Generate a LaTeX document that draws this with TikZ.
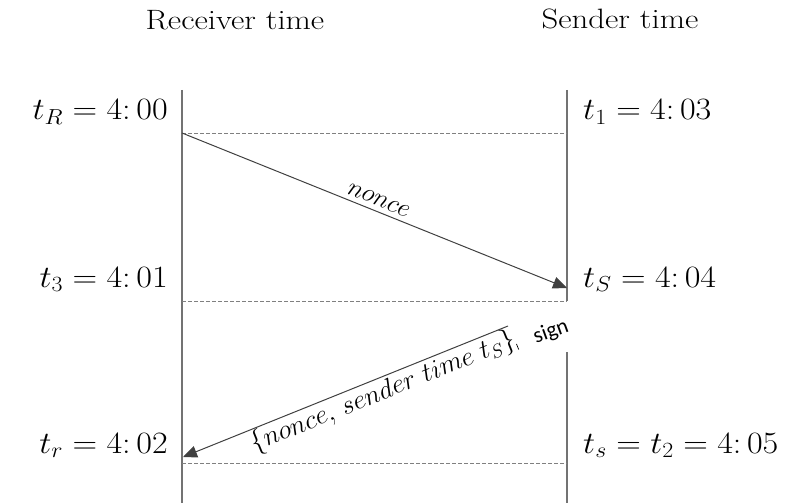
\RequirePackage{fix-cm}
\documentclass[tikz,border=0pt]{standalone}
\usepackage{fontspec}
\newfontfamily\signfont{Carlito}
\usetikzlibrary{arrows.meta}
\begin{document}
\begin{tikzpicture}[x=1pt,y=-1pt,
  lifeline/.style={draw=black!55, line width=1.6pt},
  tick/.style={draw=black!50, dash pattern=on 3.5pt off 2.5pt, line width=0.9pt},
  msg/.style={draw=black!75, line width=1pt, -{Triangle[length=14pt,width=12pt]}},
  head/.style={font=\fontsize{28}{31}\selectfont, inner sep=0pt, xscale=1.17},
  stamp/.style={font=\fontsize{31}{35}\selectfont, inner sep=0pt, xscale=1.1},
  mlabel/.style={sloped}]
\useasboundingbox (0,0) rectangle (807,503);

% column headings
\node[head, anchor=base] (hr) at (235,30) {Receiver time};
\node[head, anchor=base] (hs) at (620,29) {Sender time};

% lifelines
\coordinate (rtop) at (182,90);
\coordinate (rbot) at (182,503);
\coordinate (stop) at (567,90);
\coordinate (smid) at (567,301);
\coordinate (slow) at (567,352);
\coordinate (sbot) at (567,503);
\draw[lifeline] (rtop) -- (rbot);
\draw[lifeline] (stop) -- (smid);
\draw[lifeline] (slow) -- (sbot);

% time ticks
\coordinate (r1) at (182,133); \coordinate (s1) at (567,133);
\coordinate (r2) at (182,301); \coordinate (s2) at (567,301);
\coordinate (r3) at (182,463); \coordinate (s3) at (567,463);
\draw[tick] (r1) -- (s1);
\draw[tick] (r2) -- (s2);
\draw[tick] (r3) -- (s3);

% messages
\coordinate (sarr) at (567,288);
\coordinate (sdep) at (508,326);
\coordinate (rarr) at (183,457);
\draw[msg] (r1) -- node[mlabel, font=\fontsize{26}{30}\selectfont, midway, above, inner sep=5pt] {$nonce$} (sarr);
\draw[msg] (sdep) -- node[mlabel, font=\fontsize{27}{31}\selectfont, pos=0.40, below, inner sep=1pt]
  {$\{nonce,\,sender\ time\ t_S\}_{\rule{0.7pt}{6pt}}$} (rarr);
\node[font=\signfont\fontsize{22}{26}\selectfont, rotate=20] (sg) at (551,332) {sign};

% receiver clock readings
\node[stamp, anchor=base east] (tR) at (168,120) {$t_R = 4\mathpunct{:}00$};
\node[stamp, anchor=base east] (t3) at (168,287) {$t_3 = 4\mathpunct{:}01$};
\node[stamp, anchor=base east] (tr) at (168,453) {$t_r = 4\mathpunct{:}02$};

% sender clock readings
\node[stamp, anchor=base west] (t1) at (583,120) {$t_1 = 4\mathpunct{:}03$};
\node[stamp, anchor=base west] (tS) at (583,287) {$t_S = 4\mathpunct{:}04$};
\node[stamp, anchor=base west] (t2) at (583,453) {$t_s = t_2 = 4\mathpunct{:}05$};
\end{tikzpicture}
\end{document}
